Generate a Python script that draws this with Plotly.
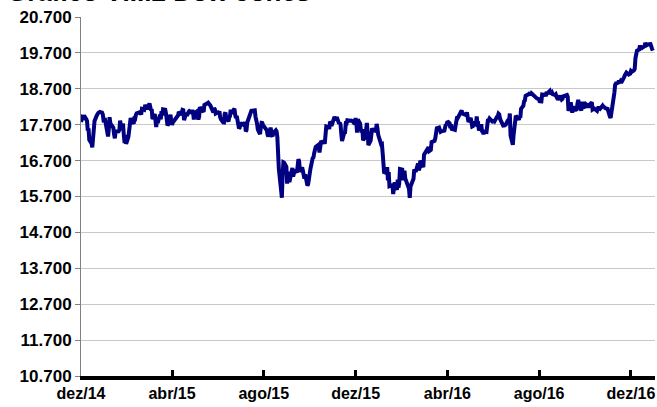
import pandas as pd
import plotly.graph_objects as go

# Daily closes of the Dow Jones index (points), one list per month
dez14 = [17777, 17880, 17913, 17900, 17959, 17853, 17801, 17533, 17596, 17281, 17181, 17069, 17357, 17778, 17805, 17959, 18024, 18030, 18054, 18038, 17983, 17823]
jan15 = [17833, 17502, 17372, 17585, 17908, 17737, 17641, 17614, 17427, 17321, 17512, 17515, 17554, 17814, 17673, 17679, 17387, 17191, 17417, 17165]
fev15 = [17361, 17666, 17673, 17885, 17824, 17729, 17869, 17862, 17972, 18019, 18048, 18030, 17986, 18140, 18117, 18209, 18225, 18214, 18133]
mar15 = [18289, 18203, 18097, 18136, 17857, 17996, 17663, 17635, 17895, 17749, 17977, 17849, 18076, 17959, 18128, 18116, 18011, 17719, 17678, 17713, 17976, 17776]
abr15 = [17698, 17763, 17881, 17875, 17903, 17959, 18058, 17977, 18037, 18113, 18106, 17826, 18035, 17950, 18038, 18059, 18080, 18038, 18110, 18036, 17841]
mai15 = [18024, 18070, 17928, 17842, 17924, 18191, 18105, 18068, 18060, 18252, 18273, 18299, 18312, 18285, 18286, 18232, 18042, 18163, 18126, 18011]
jun15 = [18040, 18012, 18076, 17906, 17849, 17767, 17764, 18000, 18039, 17899, 17791, 17904, 17936, 18116, 18016, 18120, 18144, 17966, 17890, 17947, 17596, 17620]
jul15 = [17758, 17730, 17684, 17777, 17515, 17549, 17760, 17978, 18054, 18050, 18120, 18086, 18100, 17919, 17851, 17732, 17569, 17441, 17630, 17751, 17746, 17690]
ago15 = [17598, 17551, 17542, 17420, 17373, 17615, 17403, 17403, 17408, 17477, 17545, 17511, 17349, 16991, 16460, 15871, 15666, 16286, 16655, 16643, 16528]
set15 = [16058, 16351, 16375, 16102, 16493, 16254, 16330, 16433, 16371, 16600, 16740, 16675, 16385, 16510, 16330, 16280, 16201, 16315, 16002, 16049, 16285]
out15 = [16272, 16472, 16776, 16790, 16912, 17051, 17084, 17132, 17082, 16925, 17142, 17216, 17231, 17217, 17169, 17489, 17647, 17623, 17581, 17780, 17756, 17664]
nov15 = [17829, 17918, 17868, 17863, 17910, 17730, 17758, 17702, 17448, 17245, 17483, 17490, 17737, 17733, 17824, 17793, 17812, 17813, 17798, 17720]
dez15 = [17888, 17730, 17478, 17848, 17731, 17568, 17492, 17575, 17265, 17369, 17525, 17749, 17496, 17129, 17252, 17417, 17603, 17552, 17528, 17721, 17604, 17425]
jan16 = [17149, 17159, 16907, 16514, 16346, 16399, 16516, 16151, 16379, 15988, 16016, 15767, 15883, 16094, 15885, 16167, 15944, 16070, 16466]
fev16 = [16449, 16154, 16337, 16417, 16205, 16027, 16014, 15915, 15660, 15974, 16196, 16454, 16413, 16392, 16621, 16432, 16485, 16697, 16640, 16517]
mar16 = [16865, 16899, 16944, 17007, 17074, 16964, 17000, 16995, 17213, 17229, 17252, 17326, 17481, 17602, 17624, 17583, 17503, 17516, 17535, 17633, 17717, 17685]
abr16 = [17793, 17737, 17603, 17716, 17542, 17577, 17556, 17721, 17908, 17926, 17897, 18004, 18054, 18096, 17983, 18004, 17977, 17990, 18042, 17831, 17774]
mai16 = [17891, 17751, 17651, 17661, 17741, 17706, 17928, 17711, 17721, 17535, 17711, 17530, 17527, 17435, 17501, 17493, 17706, 17852, 17828, 17873, 17787]
jun16 = [17790, 17839, 17807, 17920, 17938, 18005, 17985, 17865, 17732, 17675, 17640, 17733, 17675, 17805, 17830, 17781, 18011, 17401, 17140, 17410, 17695, 17930]
jul16 = [17949, 17841, 17919, 17896, 18147, 18227, 18348, 18372, 18506, 18517, 18533, 18559, 18595, 18517, 18571, 18493, 18474, 18472, 18456, 18432]
ago16 = [18405, 18314, 18355, 18352, 18544, 18529, 18533, 18496, 18614, 18576, 18636, 18552, 18574, 18598, 18553, 18529, 18547, 18481, 18448, 18395, 18503, 18454, 18401]
set16 = [18419, 18492, 18538, 18526, 18480, 18085, 18325, 18067, 18035, 18212, 18124, 18120, 18130, 18294, 18392, 18261, 18095, 18228, 18339, 18143, 18308]
out16 = [18254, 18168, 18281, 18269, 18240, 18329, 18129, 18144, 18099, 18138, 18086, 18162, 18203, 18162, 18146, 18223, 18169, 18199, 18170, 18161, 18142]
nov16 = [18037, 17960, 17931, 17888, 18260, 18333, 18590, 18808, 18848, 18869, 18923, 18868, 18904, 18868, 18957, 19024, 19083, 19152, 19098, 19122, 19124]
dez16 = [19192, 19170, 19216, 19252, 19550, 19615, 19757, 19796, 19911, 19793, 19852, 19843, 19883, 19975, 19942, 19919, 19934, 19945, 19834, 19820, 19763]

months = ["2014-12", "2015-01", "2015-02", "2015-03", "2015-04", "2015-05", "2015-06",
          "2015-07", "2015-08", "2015-09", "2015-10", "2015-11", "2015-12", "2016-01",
          "2016-02", "2016-03", "2016-04", "2016-05", "2016-06", "2016-07", "2016-08",
          "2016-09", "2016-10", "2016-11", "2016-12"]
monthly_values = [dez14, jan15, fev15, mar15, abr15, mai15, jun15, jul15, ago15, set15,
                  out15, nov15, dez15, jan16, fev16, mar16, abr16, mai16, jun16, jul16,
                  ago16, set16, out16, nov16, dez16]

market_holidays = ["2014-12-25", "2015-01-01", "2015-01-19", "2015-02-16", "2015-04-03",
                   "2015-05-25", "2015-07-03", "2015-09-07", "2015-11-26", "2015-12-25",
                   "2016-01-01", "2016-01-18", "2016-02-15", "2016-03-25", "2016-05-30",
                   "2016-07-04", "2016-09-05", "2016-11-24", "2016-12-26"]

tick_dates = ["2014-12-01", "2015-04-01", "2015-08-01", "2015-12-01", "2016-04-01", "2016-08-01", "2016-12-01"]
tick_labels = ["dez/14", "abr/15", "ago/15", "dez/15", "abr/16", "ago/16", "dez/16"]

title_text = "Gráfico VIII.2 Dow Jones"

hol = set(pd.to_datetime(market_holidays))
dates, values = [], []
for m, vals in zip(months, monthly_values):
    start = pd.Timestamp(m + "-01")
    end = start + pd.offsets.MonthEnd(0)
    days = [d for d in pd.bdate_range(start, end) if d not in hol]
    for d, v in zip(days, vals):
        dates.append(d)
        values.append(v)

fig = go.Figure()
fig.add_trace(go.Scatter(x=dates, y=values, mode="lines",
                         line=dict(color="#000080", width=4), hoverinfo="skip"))

AR = "Arial, Liberation Sans, sans-serif"

fig.update_layout(
    width=657, height=407,
    margin=dict(l=81, r=2, t=17, b=31),
    paper_bgcolor="white", plot_bgcolor="white",
    separators=",.",
    showlegend=False,
    font=dict(family=AR, size=15, color="#000000"),
)
fig.add_annotation(text="<b>" + title_text + "</b>", xref="paper", yref="paper",
                   x=-0.132, y=1.022, xanchor="left", yanchor="bottom", showarrow=False,
                   font=dict(family=AR, size=26, color="#000000"))

fig.update_yaxes(range=[10700, 20700], tickmode="linear", tick0=10700, dtick=1000,
                 tickformat=",.0f", showgrid=True, gridcolor="#c8c8c8", gridwidth=1,
                 showline=True, linecolor="#808080", linewidth=1,
                 ticks="outside", ticklen=5, tickcolor="#808080",
                 tickfont=dict(family=AR, size=17, color="#000000", weight="bold"),
                 zeroline=False, fixedrange=True)
fig.update_xaxes(range=["2014-12-01", "2017-01-02"], tickmode="array",
                 tickvals=tick_dates, ticktext=tick_labels,
                 showgrid=False, showline=True, linecolor="#000000", linewidth=4,
                 ticks="inside", ticklen=6, tickwidth=3, tickcolor="#000000",
                 tickfont=dict(family=AR, size=16, color="#000000", weight="bold"),
                 zeroline=False, fixedrange=True)

fig.write_html("out.html", config={"displayModeBar": False},
               post_script="document.body.style.margin='0';document.body.style.overflow='hidden';")
